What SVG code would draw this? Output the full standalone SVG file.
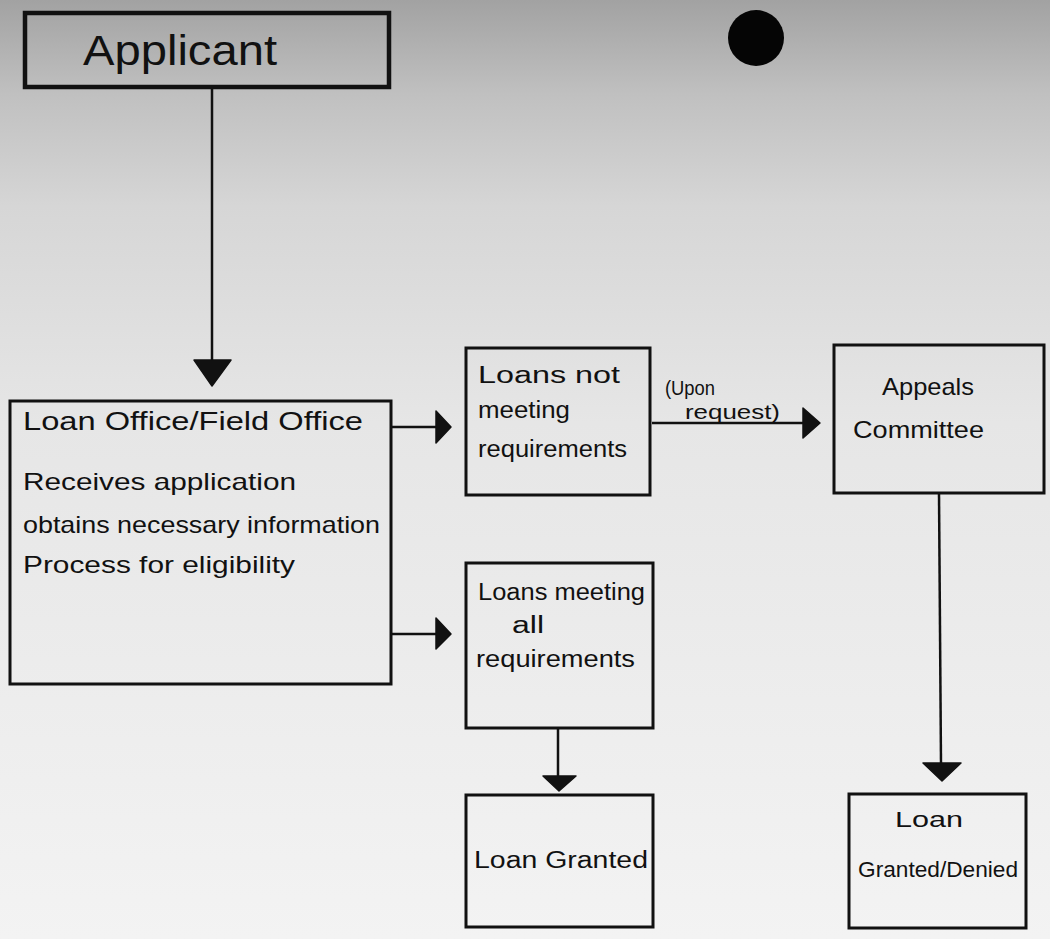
<svg xmlns="http://www.w3.org/2000/svg" width="1050" height="939" viewBox="0 0 1050 939">
<defs>
<linearGradient id="paper" x1="0" y1="0" x2="0" y2="1">
<stop offset="0" stop-color="#a2a2a2"/>
<stop offset="0.1" stop-color="#c0c0c0"/>
<stop offset="0.22" stop-color="#d6d6d6"/>
<stop offset="0.45" stop-color="#e6e6e6"/>
<stop offset="1" stop-color="#f3f3f3"/>
</linearGradient>
<style>
.box{fill:none;stroke:#111;stroke-width:3}
.t{font-family:"Liberation Sans","DejaVu Sans",sans-serif;fill:#111}
.ln{stroke:#111;stroke-width:2.5;fill:none}
.hd{fill:#111;stroke:#111;stroke-width:1.5;stroke-linejoin:round}
</style>
</defs>
<rect x="0" y="0" width="1050" height="939" fill="url(#paper)"/>
<circle cx="756" cy="38" r="28" fill="#050505"/>

<g id="connectors">
<line class="ln" x1="212" y1="87" x2="212" y2="362"/>
<polygon class="hd" points="194,360 231,360 212,386"/>
<line class="ln" x1="391" y1="427" x2="440" y2="427"/>
<polygon class="hd" points="436,411 451,427 436,443"/>
<line class="ln" x1="391" y1="634" x2="440" y2="634"/>
<polygon class="hd" points="436,618 451,634 436,649"/>
<line class="ln" x1="652" y1="423" x2="805" y2="423"/>
<polygon class="hd" points="803,408 820,423 803,438"/>
<line class="ln" x1="939" y1="493" x2="941" y2="764"/>
<polygon class="hd" points="923,763 961,763 942,781"/>
<line class="ln" x1="558" y1="728" x2="558" y2="779"/>
<polygon class="hd" points="543,776 576,776 559,791"/>
<text class="t" x="665" y="395" font-size="20" textLength="50" lengthAdjust="spacingAndGlyphs">(Upon</text>
<text class="t" x="685" y="419" font-size="20" textLength="95" lengthAdjust="spacingAndGlyphs">request)</text>
</g>

<g id="applicant">
<rect x="25" y="13" width="364" height="74" fill="none" stroke="#111" stroke-width="4.5"/>
<text class="t" x="83" y="65" font-size="42" textLength="194" lengthAdjust="spacingAndGlyphs">Applicant</text>
</g>

<g id="loan-office">
<rect class="box" x="10" y="401" width="381" height="283"/>
<text class="t" x="23" y="430" font-size="25" textLength="340" lengthAdjust="spacingAndGlyphs">Loan Office/Field Office</text>
<text class="t" x="23" y="490" font-size="24" textLength="273" lengthAdjust="spacingAndGlyphs">Receives application</text>
<text class="t" x="23" y="533" font-size="24" textLength="357" lengthAdjust="spacingAndGlyphs">obtains necessary information</text>
<text class="t" x="23" y="573" font-size="24" textLength="272" lengthAdjust="spacingAndGlyphs">Process for eligibility</text>
</g>

<g id="loans-not-meeting">
<rect class="box" x="466" y="348" width="184" height="147"/>
<text class="t" x="478" y="383" font-size="23" textLength="142" lengthAdjust="spacingAndGlyphs">Loans not</text>
<text class="t" x="478" y="418" font-size="23" textLength="92" lengthAdjust="spacingAndGlyphs">meeting</text>
<text class="t" x="478" y="457" font-size="23" textLength="149" lengthAdjust="spacingAndGlyphs">requirements</text>
</g>

<g id="appeals-committee">
<rect class="box" x="834" y="345" width="210" height="148"/>
<text class="t" x="882" y="395" font-size="24" textLength="92" lengthAdjust="spacingAndGlyphs">Appeals</text>
<text class="t" x="853" y="438" font-size="24" textLength="131" lengthAdjust="spacingAndGlyphs">Committee</text>
</g>

<g id="loans-meeting-all">
<rect class="box" x="466" y="563" width="187" height="165"/>
<text class="t" x="478" y="600" font-size="23" textLength="167" lengthAdjust="spacingAndGlyphs">Loans meeting</text>
<text class="t" x="512" y="633" font-size="23" textLength="32" lengthAdjust="spacingAndGlyphs">all</text>
<text class="t" x="476" y="667" font-size="23" textLength="159" lengthAdjust="spacingAndGlyphs">requirements</text>
</g>

<g id="loan-granted">
<rect class="box" x="466" y="795" width="187" height="132"/>
<text class="t" x="474" y="868" font-size="23" textLength="174" lengthAdjust="spacingAndGlyphs">Loan Granted</text>
</g>

<g id="loan-granted-denied">
<rect class="box" x="849" y="794" width="177" height="134"/>
<text class="t" x="895" y="827" font-size="22" textLength="68" lengthAdjust="spacingAndGlyphs">Loan</text>
<text class="t" x="858" y="877" font-size="22" textLength="160" lengthAdjust="spacingAndGlyphs">Granted/Denied</text>
</g>
</svg>
